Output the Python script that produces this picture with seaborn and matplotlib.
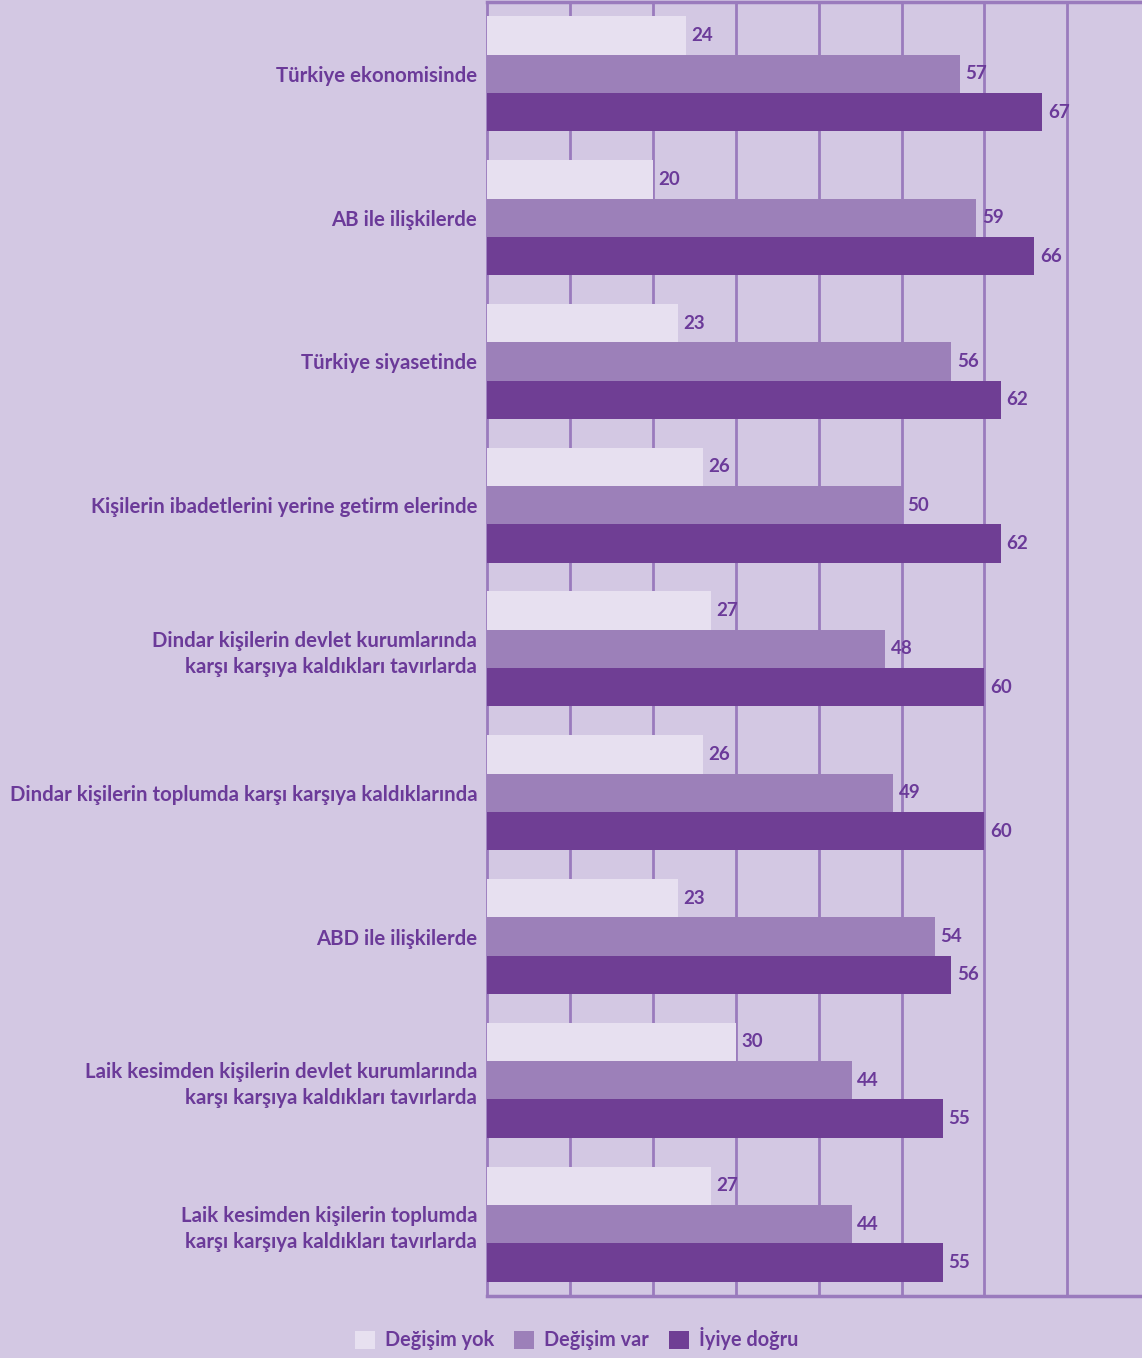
import pandas as pd
import seaborn as sns
import matplotlib.pyplot as plt
from matplotlib.patches import Patch

# Dados
kategoriler = [
    'Türkiye ekonomisinde',
    'AB ile ilişkilerde',
    'Türkiye siyasetinde',
    'Kişilerin ibadetlerini yerine getirm elerinde',
    'Dindar kişilerin devlet kurumlarında\nkarşı karşıya kaldıkları tavırlarda',
    'Dindar kişilerin toplumda karşı karşıya kaldıklarında',
    'ABD ile ilişkilerde',
    'Laik kesimden kişilerin devlet kurumlarında\nkarşı karşıya kaldıkları tavırlarda',
    'Laik kesimden kişilerin toplumda\nkarşı karşıya kaldıkları tavırlarda',
]
seriler = ['Değişim yok', 'Değişim var', 'İyiye doğru']
degisim_yok = [24, 20, 23, 26, 27, 26, 23, 30, 27]
degisim_var = [57, 59, 56, 50, 48, 49, 54, 44, 44]
iyiye_dogru = [67, 66, 62, 62, 60, 60, 56, 55, 55]

renkler = ['#E7E0F0', '#9C80B9', '#6F3E94']
arka_plan = '#D3C8E3'
yazi_rengi = '#6B3A99'
izgara = '#9A7BBD'

df = pd.DataFrame({
    'kategori': kategoriler * 3,
    'seri': [s for s in seriler for _ in kategoriler],
    'deger': degisim_yok + degisim_var + iyiye_dogru,
})

sns.set_style('white')
plt.rcParams['font.family'] = ['Lato', 'DejaVu Sans']

fig = plt.figure(figsize=(11.42, 13.58), dpi=100, facecolor=arka_plan)
ax = fig.add_axes([0.4264, 0.0457, 0.5736, 0.9528])
ax.set_facecolor(arka_plan)

sns.barplot(data=df, y='kategori', x='deger', hue='seri', hue_order=seriler,
            palette=renkler, width=0.8, orient='h', saturation=1,
            linewidth=0, edgecolor='none',
            legend=False, ax=ax, zorder=3)

for cont in ax.containers:
    ax.bar_label(cont, padding=4, color=yazi_rengi, fontsize=13.5,
                 fontweight='bold', zorder=4)

ax.set_xlim(0, 79)
ax.set_ylim(len(kategoriler) - 0.5, -0.5)
ax.set_xticks(range(10, 80, 10))
ax.xaxis.grid(True, color=izgara, linewidth=2, zorder=0)
ax.tick_params(axis='x', length=0, labelbottom=False)

# kategori sınırlarında küçük çentikler
ax.set_yticks([i + 0.5 for i in range(len(kategoriler))], minor=True)
ax.tick_params(axis='y', which='major', length=0, pad=7, labelsize=14.7,
               labelcolor=yazi_rengi)
ax.tick_params(axis='y', which='minor', length=4, width=2, color=izgara)
for lbl in ax.get_yticklabels():
    lbl.set_fontweight('bold')
    lbl.set_linespacing(1.35)

for s in ['left', 'bottom', 'top']:
    ax.spines[s].set_color(izgara)
    ax.spines[s].set_linewidth(2.5)
ax.spines['left'].set_linewidth(2)
ax.spines['right'].set_visible(False)
ax.set_xlabel('')
ax.set_ylabel('')

tutamaklar = [Patch(facecolor=r, edgecolor='none', label=s)
              for r, s in zip(renkler, seriler)]
leg = fig.legend(handles=tutamaklar, loc='center', bbox_to_anchor=(0.505, 0.014),
                 ncol=3, frameon=False, handlelength=1.0, handleheight=1.0,
                 handletextpad=0.5, columnspacing=1.0,
                 prop={'size': 14.3, 'weight': 'bold'})
for t in leg.get_texts():
    t.set_color(yazi_rengi)

plt.savefig('out.png', dpi=100, facecolor=arka_plan)
plt.close()
